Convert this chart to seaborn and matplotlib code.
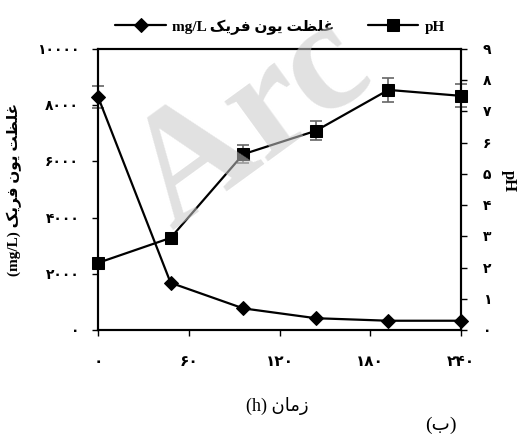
import matplotlib
matplotlib.use("Agg")
import matplotlib.pyplot as plt
import seaborn as sns
import pandas as pd

# داده ها (خوانده شده از نمودار)
hours = [0, 48, 96, 144, 192, 240]
fe_conc = [8300, 1680, 770, 420, 330, 330]
fe_err = [390, 0, 0, 0, 0, 0]
ph = [2.15, 2.95, 5.63, 6.38, 7.69, 7.50]
ph_err = [0, 0, 0.28, 0.30, 0.39, 0.37]
x_ticks = [0, 60, 120, 180, 240]
fe_ticks = [0, 2000, 4000, 6000, 8000, 10000]
ph_ticks = [0, 1, 2, 3, 4, 5, 6, 7, 8, 9]

# matplotlib shaping yapmadigi icin harfleri elle birlestiriyoruz
# (isolated, final, initial, medial)
FORMS = {
    "غ": "\ufecd\ufece\ufecf\ufed0",
    "ل": "\ufedd\ufede\ufedf\ufee0",
    "ظ": "\ufec5\ufec6\ufec7\ufec8",
    "ت": "\ufe95\ufe96\ufe97\ufe98",
    "ی": "\ufbfc\ufbfd\ufbfe\ufbff",
    "و": "\ufeed\ufeee",
    "ن": "\ufee5\ufee6\ufee7\ufee8",
    "ف": "\ufed1\ufed2\ufed3\ufed4",
    "ر": "\ufead\ufeae",
    "ک": "\ufb8e\ufb8f\ufb90\ufb91",
    "ز": "\ufeaf\ufeb0",
    "م": "\ufee1\ufee2\ufee3\ufee4",
    "ا": "\ufe8d\ufe8e",
    "ب": "\ufe8f\ufe90\ufe91\ufe92",
}


def shape(word):
    out = []
    for i, ch in enumerate(word):
        f = FORMS[ch]
        prev = i > 0 and len(FORMS[word[i - 1]]) == 4
        nxt = i < len(word) - 1 and len(f) == 4
        out.append(f[int(prev) + 2 * int(nxt)])
    return "".join(reversed(out))


def fa(phrase):
    return " ".join(shape(w) for w in reversed(phrase.split()))


def fa_num(n):
    return str(n).translate(str.maketrans("0123456789", "۰۱۲۳۴۵۶۷۸۹"))


fe_name = fa("غلظت یون فریک")

df = pd.DataFrame({"hours": hours, "fe": fe_conc, "ph": ph})

sns.set_style("ticks")
plt.rcParams["font.family"] = ["Liberation Serif", "DejaVu Sans"]
plt.rcParams["font.weight"] = "bold"
plt.rcParams["text.color"] = "black"
plt.rcParams["axes.labelcolor"] = "black"
plt.rcParams["xtick.color"] = "black"
plt.rcParams["ytick.color"] = "black"

fig = plt.figure(figsize=(5.25, 4.36), dpi=100)
ax = fig.add_axes([0.1867, 0.2431, 0.6914, 0.6445])
ax2 = ax.twinx()

# غلظت یون فریک
ax.errorbar(hours, fe_conc, yerr=fe_err, fmt="none", ecolor="#666666",
            elinewidth=1.2, capsize=4, capthick=1.2, zorder=2, clip_on=False)
sns.lineplot(data=df, x="hours", y="fe", ax=ax, color="black", lw=1.6,
             marker="D", markersize=7, markeredgecolor="black",
             clip_on=False, zorder=4)
h_fe = ax.lines[-1]

# pH
ax2.errorbar(hours, ph, yerr=ph_err, fmt="none", ecolor="#666666",
             elinewidth=1.2, capsize=4, capthick=1.2, zorder=2, clip_on=False)
sns.lineplot(data=df, x="hours", y="ph", ax=ax2, color="black", lw=1.6,
             marker="s", markersize=8.5, markeredgecolor="black",
             clip_on=False, zorder=4)
h_ph = ax2.lines[-1]

ax.set_xlim(0, 240)
ax.set_ylim(0, 10000)
ax2.set_ylim(0, 9)
ax.set_xticks(x_ticks, labels=[fa_num(t) for t in x_ticks])
ax.set_yticks(fe_ticks, labels=[fa_num(t) for t in fe_ticks])
ax2.set_yticks(ph_ticks, labels=[fa_num(t) for t in ph_ticks])

for a in (ax, ax2):
    for s in a.spines.values():
        s.set_visible(True)
        s.set_linewidth(1.5)
        s.set_color("black")

ax.tick_params(axis="x", direction="out", length=4.5, width=1,
               labelsize=11, pad=14)
ax.tick_params(axis="y", direction="out", length=4.5, width=1,
               labelsize=10, pad=9)
ax2.tick_params(axis="y", direction="out", length=4.5, width=1,
                labelsize=10, pad=11, right=True, labelright=True)

ax.set_ylabel("(mg/L) " + fe_name, fontsize=11, fontweight="bold")
ax.yaxis.set_label_coords(-0.209, 0.5)
ax2.set_ylabel("pH", fontsize=12, fontweight="bold", rotation=270,
               va="bottom")
ax2.yaxis.set_label_coords(1.11, 0.53)
ax.set_xlabel("(h) " + fa("زمان"), fontsize=13, fontweight="normal",
              va="center")
ax.xaxis.set_label_coords(0.493, -0.27)
fig.text(441 / 525, 1 - 425 / 436, "(" + shape("ب") + ")", fontsize=14,
         fontweight="normal", ha="center", va="center")

fig.legend(handles=[h_fe, h_ph], labels=["mg/L " + fe_name, "pH"],
           loc="center", bbox_to_anchor=(280 / 525, 1 - 27 / 436), ncol=2,
           frameon=False, handlelength=3.3, handletextpad=0.4,
           columnspacing=2.2, prop={"weight": "bold", "size": 11})

# filigran
fig.text(172 / 525, 1 - 230 / 436, "Arc", fontsize=115,
         rotation=36, rotation_mode="anchor", ha="left", va="baseline",
         color="#c8c8c8", alpha=0.55, family="Liberation Serif",
         fontweight="bold", zorder=10)

fig.savefig("out.png", dpi=100)
